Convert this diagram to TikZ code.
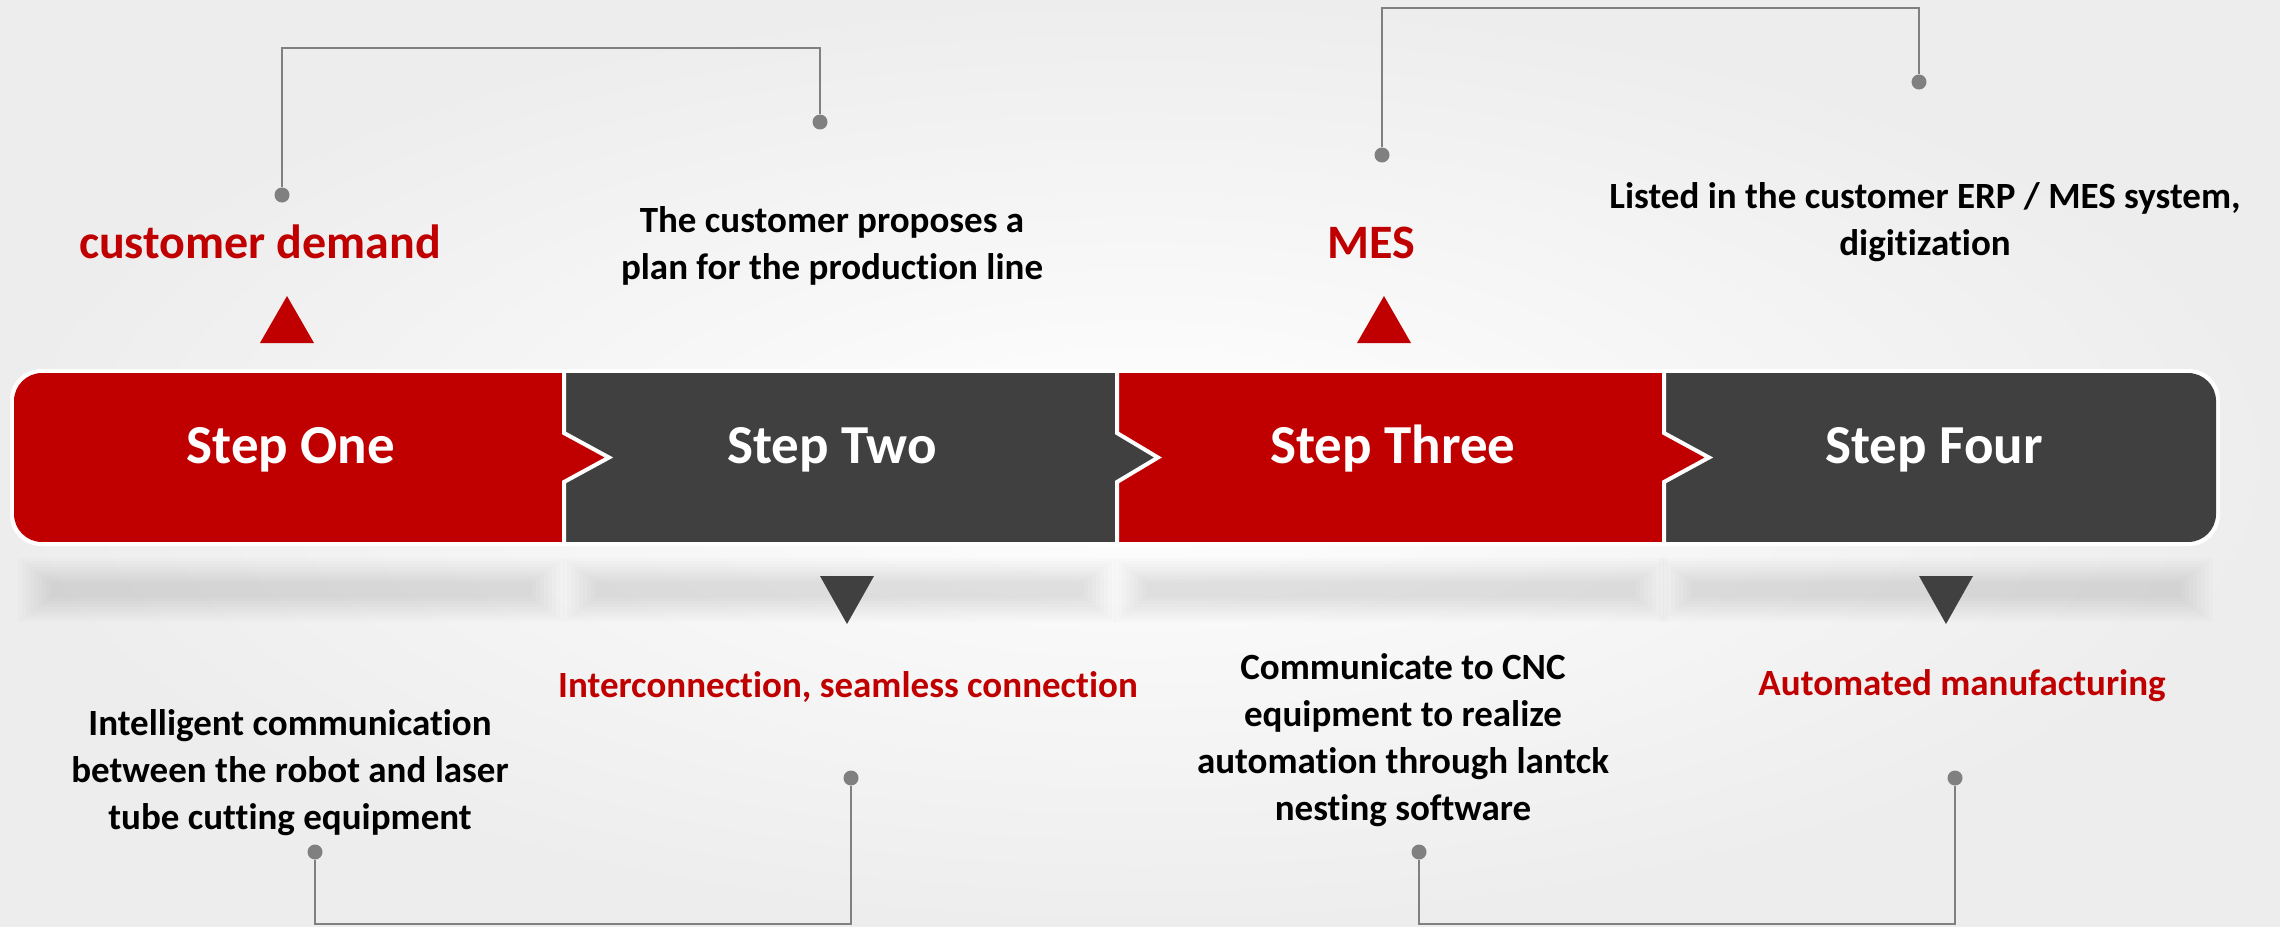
\documentclass[tikz,border=0pt]{standalone}
\usepackage{fontspec}
\setmainfont{Carlito}[Ligatures=NoCommon]
\usetikzlibrary{calc}
\definecolor{myred}{HTML}{C00000}
\definecolor{mydark}{HTML}{404040}
\definecolor{mygray}{HTML}{808080}
\begin{document}
\begin{tikzpicture}[x=1pt,y=-1pt,
  dot/.style={circle,fill=mygray,inner sep=0pt,minimum size=15pt},
  brk/.style={draw=mygray,line width=2.5pt},
  steplbl/.style={text=white,font=\fontsize{55}{60}\selectfont\bfseries,anchor=base,inner sep=0pt},
  redbig/.style={text=myred,font=\fontsize{48}{55}\selectfont\bfseries,anchor=base,inner sep=0pt},
  redsmall/.style={text=myred,font=\fontsize{37}{47}\selectfont\bfseries,anchor=base,inner sep=0pt},
  desc/.style={text=black,font=\fontsize{37}{47}\selectfont\bfseries,align=center,inner sep=0pt},
  sep/.style={draw=white,line width=4pt},
]
% background
\shade[inner color=white,outer color=black!7] (0,0) rectangle (2280,926);
\useasboundingbox (0,0) rectangle (2280,926);

% blurred shadows under the bar
\foreach \a/\b in {50/532, 595/1084, 1146/1636, 1691/2181} {
  \foreach \k in {0,...,8}
    \fill[black,opacity=0.011] (\a-\k*4, 582-\k*3) rectangle (\b+\k*4, 598+\k*3);
}

% bar
\fill[white,rounded corners=31pt] (10,369) rectangle (2220,546);
\begin{scope}
  \clip[rounded corners=28pt] (14,373) rectangle (2216,542);
  \fill[myred]  (0,373) rectangle (564,542);
  \fill[mydark] (564,373) rectangle (1117,542);
  \fill[myred]  (1117,373) rectangle (1664,542);
  \fill[mydark] (1664,373) rectangle (2230,542);
  \fill[myred]  (564,433) -- (609,457.5) -- (564,482) -- cycle;
  \fill[mydark] (1117,433) -- (1158,457.5) -- (1117,482) -- cycle;
  \fill[myred]  (1664,433) -- (1709,457.5) -- (1664,482) -- cycle;
  \draw[sep] (564,373) -- (564,433) -- (609,457.5) -- (564,482) -- (564,542);
  \draw[sep] (1117,373) -- (1117,433) -- (1158,457.5) -- (1117,482) -- (1117,542);
  \draw[sep] (1664,373) -- (1664,433) -- (1709,457.5) -- (1664,482) -- (1664,542);
\end{scope}

\node[steplbl] (s1) at (291,463) {Step One};
\node[steplbl] (s2) at (832,463) {Step Two};
\node[steplbl] (s3) at (1393,463) {Step Three};
\node[steplbl] (s4) at (1934,463) {Step Four};

% triangles
\fill[myred]  (260,343) -- (287,296) -- (314,343) -- cycle;
\fill[myred]  (1357,343) -- (1384,296) -- (1411,343) -- cycle;
\fill[mydark] (820,576) -- (847,624) -- (874,576) -- cycle;
\fill[mydark] (1919,576) -- (1946,624) -- (1973,576) -- cycle;

% top labels
\node[redbig] (l1) at (260,258) {customer demand};
\node[redbig] (l3) at (1371,258) {MES};
\node[desc] (l2) at (832,246) {The customer proposes a\\plan for the production line};
\node[desc] (l4) at (1925,222) {Listed in the customer ERP / MES system,\\digitization};

% bottom labels
\node[desc] (b1) at (290,773) {Intelligent communication\\between the robot and laser\\tube cutting equipment};
\node[redsmall] (b2) at (848,697) {Interconnection, seamless connection};
\node[desc] (b3) at (1403,740) {Communicate to CNC\\equipment to realize\\automation through lantck\\nesting software};
\node[redsmall] (b4) at (1962,695) {Automated manufacturing};

% top brackets
\node[dot] (a1) at (282,195) {};
\node[dot] (a2) at (820,122) {};
\coordinate (ah) at (551,48);
\draw[brk] (a1) |- (ah) -| (a2);
\node[dot] (a3) at (1382,155) {};
\node[dot] (a4) at (1919,82) {};
\coordinate (ah2) at (1650,8);
\draw[brk] (a3) |- (ah2) -| (a4);

% bottom brackets
\node[dot] (c1) at (315,852) {};
\node[dot] (c2) at (851,778) {};
\coordinate (ch) at (583,924);
\draw[brk] (c1) |- (ch) -| (c2);
\node[dot] (c3) at (1419,852) {};
\node[dot] (c4) at (1955,778) {};
\coordinate (ch2) at (1687,924);
\draw[brk] (c3) |- (ch2) -| (c4);
\end{tikzpicture}
\end{document}
